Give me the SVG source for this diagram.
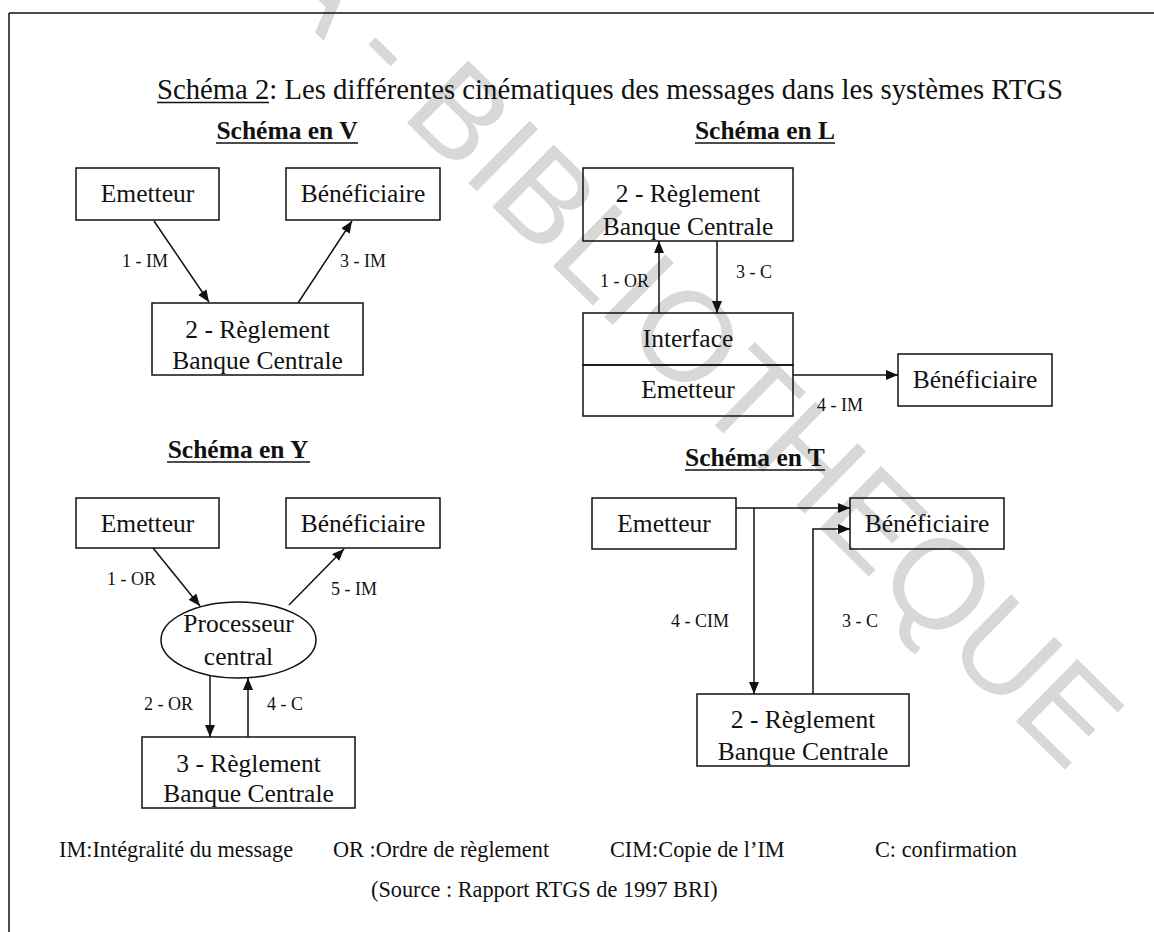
<svg xmlns="http://www.w3.org/2000/svg" width="1154" height="932" viewBox="0 0 1154 932">
  <defs>
    <marker id="arr" markerUnits="userSpaceOnUse" markerWidth="13" markerHeight="11" refX="12" refY="5" orient="auto">
      <path d="M0,0 L12,5 L0,10 z" fill="#111"/>
    </marker>
    <style>
      .box { fill: none; stroke: #111; stroke-width: 1.5; }
      .edge { fill: none; stroke: #111; stroke-width: 1.5; marker-end: url(#arr); }
      .line { fill: none; stroke: #111; stroke-width: 1.5; }
      .t { font-family: "Liberation Serif", "Times New Roman", serif; fill: #111; }
      .node { font-size: 25.5px; text-anchor: middle; }
      .lbl { font-size: 18px; }
      .sub { font-size: 25.5px; font-weight: bold; text-anchor: middle; }
      .leg { font-size: 22.3px; }
      .ul { stroke: #111; stroke-width: 1.6; }
      .wm { font-family: "Liberation Sans", Arial, sans-serif; font-size: 127px; fill: #d8d8d8; }
    </style>
  </defs>

  <rect width="1154" height="932" fill="#fff"/>

  <!-- background stamp -->
  <text class="wm" transform="translate(661.1,372.5) rotate(44.5)" x="-1136" y="0">CODESRIA - BIBLIOTHEQUE</text>

  <!-- page frame -->
  <g id="frame" class="line" stroke-width="2">
    <line x1="9" y1="13" x2="1154" y2="13"/>
    <line x1="9" y1="13" x2="9" y2="932"/>
  </g>

  <!-- headings -->
  <g id="headings">
    <text class="t" x="157" y="99" font-size="28.7">Schéma 2: Les différentes cinématiques des messages dans les systèmes RTGS</text>
    <line class="ul" x1="157" y1="102.5" x2="269" y2="102.5"/>
    <text class="t sub" x="287" y="139">Schéma en V</text>
    <line class="ul" x1="216" y1="143" x2="358" y2="143"/>
    <text class="t sub" x="765" y="139">Schéma en L</text>
    <line class="ul" x1="695" y1="143" x2="835" y2="143"/>
    <text class="t sub" x="238" y="458">Schéma en Y</text>
    <line class="ul" x1="167" y1="462" x2="310" y2="462"/>
    <text class="t sub" x="755" y="466">Schéma en T</text>
    <line class="ul" x1="685" y1="470" x2="825" y2="470"/>
  </g>

  <!-- Schéma en V -->
  <g id="v-emetteur">
    <rect class="box" x="76" y="168" width="143" height="52"/>
    <text class="t node" x="147.5" y="202">Emetteur</text>
  </g>
  <g id="v-beneficiaire">
    <rect class="box" x="286" y="168" width="154" height="52"/>
    <text class="t node" x="363" y="202">Bénéficiaire</text>
  </g>
  <g id="v-reglement">
    <rect class="box" x="152" y="303" width="211" height="72"/>
    <text class="t node" x="257.5" y="338">2 - Règlement</text>
    <text class="t node" x="257.5" y="369">Banque Centrale</text>
  </g>

  <!-- Schéma en L -->
  <g id="l-reglement">
    <rect class="box" x="583" y="168" width="210" height="73"/>
    <text class="t node" x="688" y="202">2 - Règlement</text>
    <text class="t node" x="688" y="235">Banque Centrale</text>
  </g>
  <g id="l-interface-emetteur">
    <rect class="box" x="583" y="313" width="210" height="52"/>
    <rect class="box" x="583" y="365" width="210" height="51"/>
    <text class="t node" x="688" y="347">Interface</text>
    <text class="t node" x="688" y="398">Emetteur</text>
  </g>
  <g id="l-beneficiaire">
    <rect class="box" x="898" y="354" width="154" height="52"/>
    <text class="t node" x="975" y="388">Bénéficiaire</text>
  </g>

  <!-- Schéma en Y -->
  <g id="y-emetteur">
    <rect class="box" x="76" y="498" width="143" height="50"/>
    <text class="t node" x="147.5" y="532">Emetteur</text>
  </g>
  <g id="y-beneficiaire">
    <rect class="box" x="286" y="498" width="154" height="50"/>
    <text class="t node" x="363" y="532">Bénéficiaire</text>
  </g>
  <g id="y-processeur">
    <ellipse class="box" cx="238.5" cy="640" rx="77.5" ry="38"/>
    <text class="t node" x="238.5" y="632">Processeur</text>
    <text class="t node" x="238.5" y="665">central</text>
  </g>
  <g id="y-reglement">
    <rect class="box" x="142" y="737" width="213" height="71"/>
    <text class="t node" x="248.5" y="772">3 - Règlement</text>
    <text class="t node" x="248.5" y="802">Banque Centrale</text>
  </g>

  <!-- Schéma en T -->
  <g id="t-emetteur">
    <rect class="box" x="592" y="498" width="144" height="51"/>
    <text class="t node" x="664" y="532">Emetteur</text>
  </g>
  <g id="t-beneficiaire">
    <rect class="box" x="850" y="498" width="154" height="51"/>
    <text class="t node" x="927" y="532">Bénéficiaire</text>
  </g>
  <g id="t-reglement">
    <rect class="box" x="697" y="694" width="212" height="72"/>
    <text class="t node" x="803" y="728">2 - Règlement</text>
    <text class="t node" x="803" y="760">Banque Centrale</text>
  </g>

  <!-- connectors -->
  <g id="connectors">
    <path class="edge" d="M154,221 L209,302"/>
    <path class="edge" d="M298,303 L352,221"/>
    <path class="edge" d="M659,313 L659,241"/>
    <path class="edge" d="M717,241 L717,313"/>
    <path class="edge" d="M793,375 L898,375"/>
    <path class="edge" d="M153,548 L200,606"/>
    <path class="edge" d="M289,605 L344,549"/>
    <path class="edge" d="M210,675 L210,737"/>
    <path class="edge" d="M248,737 L248,678"/>
    <path class="edge" d="M736,508 L850,508"/>
    <path class="edge" d="M754,508 L754,694"/>
    <path class="edge" d="M813,694 L813,529 L850,529"/>
  </g>

  <!-- connector labels -->
  <g id="connector-labels" class="t lbl">
    <text x="122" y="267">1 - IM</text>
    <text x="340" y="267">3 - IM</text>
    <text x="600" y="287">1 - OR</text>
    <text x="736" y="278">3 - C</text>
    <text x="817" y="411">4 - IM</text>
    <text x="107" y="585">1 - OR</text>
    <text x="331" y="595">5 - IM</text>
    <text x="144" y="710">2 - OR</text>
    <text x="267" y="710">4 - C</text>
    <text x="671" y="627">4 - CIM</text>
    <text x="842" y="627">3 - C</text>
  </g>

  <!-- legend and source -->
  <g id="legend" class="t leg">
    <text x="59" y="857">IM:Intégralité du message</text>
    <text x="333" y="857">OR :Ordre de règlement</text>
    <text x="610" y="857">CIM:Copie de l’IM</text>
    <text x="875" y="857">C: confirmation</text>
    <text x="371" y="897">(Source : Rapport RTGS de 1997 BRI)</text>
  </g>
</svg>
